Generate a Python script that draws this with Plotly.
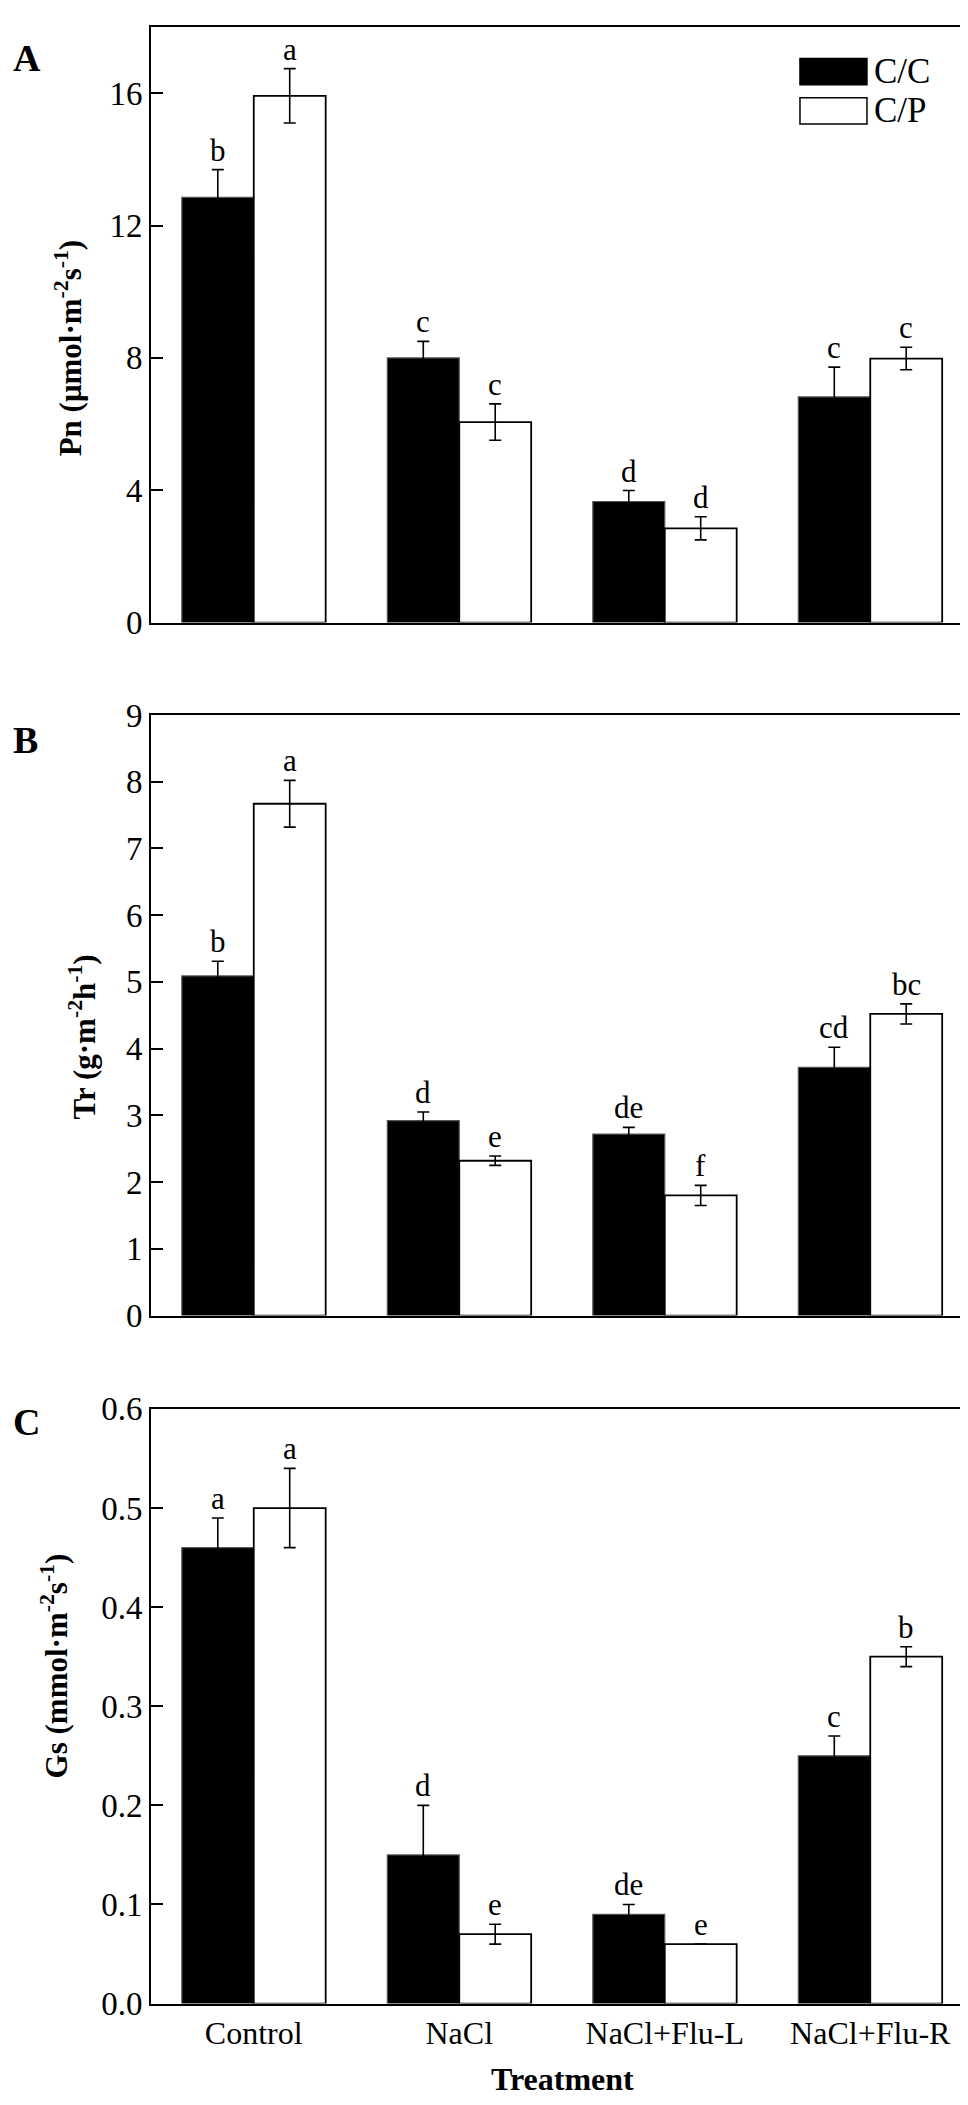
import plotly.graph_objects as go

# data (mean and SE per treatment)
treatments = ["Control", "NaCl", "NaCl+Flu-L", "NaCl+Flu-R"]

pn_cc = [12.85, 8.0, 3.66, 6.82]
pn_cc_se = [0.84, 0.5, 0.33, 0.9]
pn_cp = [15.92, 6.06, 2.85, 7.98]
pn_cp_se = [0.82, 0.55, 0.35, 0.34]
pn_cc_lab = ["b", "c", "d", "c"]
pn_cp_lab = ["a", "c", "d", "c"]

tr_cc = [5.09, 2.92, 2.72, 3.72]
tr_cc_se = [0.22, 0.13, 0.1, 0.3]
tr_cp = [7.67, 2.32, 1.8, 4.52]
tr_cp_se = [0.35, 0.07, 0.15, 0.15]
tr_cc_lab = ["b", "d", "de", "cd"]
tr_cp_lab = ["a", "e", "f", "bc"]

gs_cc = [0.46, 0.15, 0.09, 0.25]
gs_cc_se = [0.03, 0.05, 0.01, 0.02]
gs_cp = [0.50, 0.07, 0.06, 0.35]
gs_cp_se = [0.04, 0.01, 0.0, 0.01]
gs_cc_lab = ["a", "d", "de", "c"]
gs_cp_lab = ["a", "e", "e", "b"]

FONT = "Times New Roman, Liberation Serif, serif"
W, H = 968, 2105
BARGAP = 0.3
half = (1 - BARGAP) / 4  # offset of each bar centre from category centre

panels = [
    dict(cc=pn_cc, cc_se=pn_cc_se, cp=pn_cp, cp_se=pn_cp_se, cl=pn_cc_lab, pl=pn_cp_lab,
         rng=[0, 18], dtick=4, fmt="d", top=2, bot=608, letter="A", lety=34,
         title="<b>Pn (μmol·m<sup>-2</sup>s<sup>-1</sup>)</b>", tx=60, ty=329),
    dict(cc=tr_cc, cc_se=tr_cc_se, cp=tr_cp, cp_se=tr_cp_se, cl=tr_cc_lab, pl=tr_cp_lab,
         rng=[0, 9], dtick=1, fmt="d", top=702, bot=1313, letter="B", lety=727,
         title="<b>Tr (g·m<sup>-2</sup>h<sup>-1</sup>)</b>", tx=74, ty=1030),
    dict(cc=gs_cc, cc_se=gs_cc_se, cp=gs_cp, cp_se=gs_cp_se, cl=gs_cc_lab, pl=gs_cp_lab,
         rng=[0, 0.6], dtick=0.1, fmt=".1f", top=1408, bot=2013, letter="C", lety=1421,
         title="<b>Gs (mmol·m<sup>-2</sup>s<sup>-1</sup>)</b>", tx=46, ty=1670),
]

fig = go.Figure()
annotations = []
layout = {}
xdom = [143 / W, 965 / W]

for k, p in enumerate(panels):
    sfx = "" if k == 0 else str(k + 1)
    xa, ya = "x" + sfx, "y" + sfx
    err = dict(type="data", color="black", thickness=1.6, width=6)
    fig.add_trace(go.Bar(x=treatments, y=p["cc"], name="C/C", xaxis=xa, yaxis=ya,
                         marker=dict(color="black", line=dict(color="#555555", width=1.2)),
                         error_y=dict(err, array=p["cc_se"]), showlegend=False))
    fig.add_trace(go.Bar(x=treatments, y=p["cp"], name="C/P", xaxis=xa, yaxis=ya,
                         marker=dict(color="white", line=dict(color="black", width=1.8)),
                         error_y=dict(err, array=p["cp_se"]), showlegend=False))

    ydom = [1 - p["bot"] / H, 1 - p["top"] / H]
    layout["xaxis" + sfx] = dict(domain=xdom, anchor=ya, range=[-0.5, 3.5], showline=True,
                                 mirror=True, linecolor="black", linewidth=2, ticks="",
                                 showgrid=False, showticklabels=(k == 2),
                                 tickfont=dict(size=32, color="black", family=FONT))
    layout["yaxis" + sfx] = dict(domain=ydom, anchor=xa, range=p["rng"], dtick=p["dtick"],
                                 tick0=0, tickformat=p["fmt"], ticks="inside", ticklen=12,
                                 tickwidth=2, tickcolor="black", showline=True, mirror=True,
                                 linecolor="black", linewidth=2, showgrid=False, zeroline=False,
                                 tickfont=dict(size=33, color="black", family=FONT))

    # significance letters above the error bars
    for i in range(len(treatments)):
        for vals, ses, labs, off in [(p["cc"], p["cc_se"], p["cl"], -half),
                                     (p["cp"], p["cp_se"], p["pl"], half)]:
            annotations.append(dict(x=i + off, y=vals[i] + ses[i], xref=xa, yref=ya,
                                    text=labs[i], showarrow=False, yanchor="bottom",
                                    yshift=0, font=dict(size=31, family=FONT, color="black")))

    annotations.append(dict(x=p["tx"] / W, y=1 - p["ty"] / H, xref="paper", yref="paper",
                            text=p["title"], textangle=-90, showarrow=False,
                            xanchor="center", yanchor="middle",
                            font=dict(size=31, family=FONT, color="black")))
    annotations.append(dict(x=3 / W, y=1 - p["lety"] / H, xref="paper", yref="paper",
                            text="<b>" + p["letter"] + "</b>", showarrow=False,
                            xanchor="left", yanchor="middle",
                            font=dict(size=38, family=FONT, color="black")))

annotations.append(dict(x=(xdom[0] + xdom[1]) / 2, y=1 - 2090 / H, xref="paper", yref="paper",
                        text="<b>Treatment</b>", showarrow=False, yanchor="middle",
                        font=dict(size=32, family=FONT, color="black")))

# legend drawn as boxes in panel A
shapes = []
for fill, y0, y1, lab in [("black", 0.903, 0.947, "C/C"), ("white", 0.837, 0.881, "C/P")]:
    shapes.append(dict(type="rect", xref="x domain", yref="y domain", x0=0.7895, x1=0.871,
                       y0=y0, y1=y1, fillcolor=fill, line=dict(color="black", width=1.5)))
    annotations.append(dict(x=0.877, y=(y0 + y1) / 2, xref="x domain", yref="y domain",
                            text=lab, showarrow=False, xanchor="left", yanchor="middle",
                            font=dict(size=35, family=FONT, color="black")))

fig.update_layout(
    width=W, height=H,
    margin=dict(l=0, r=0, t=0, b=0),
    paper_bgcolor="white", plot_bgcolor="white",
    barmode="group", bargap=BARGAP, bargroupgap=0,
    font=dict(family=FONT, color="black"),
    annotations=annotations, shapes=shapes,
    **layout,
)

fig.write_html("out.html")
